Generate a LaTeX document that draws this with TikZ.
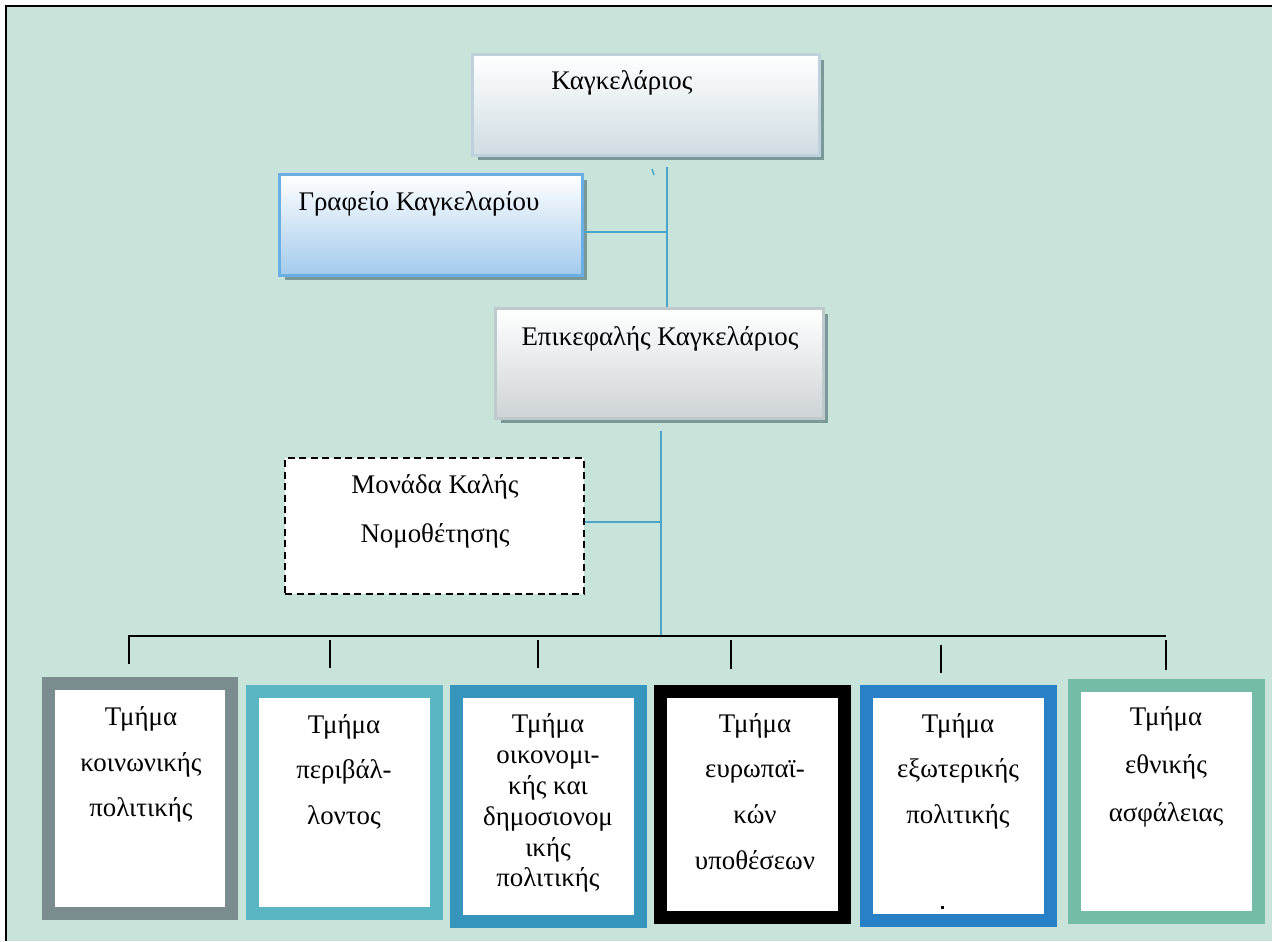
\documentclass[tikz,border=0pt]{standalone}
\usepackage{fontspec}
\setmainfont{Liberation Serif}
\usetikzlibrary{shadows}

\definecolor{bgcol}{HTML}{C7E3DA}
\definecolor{shadowcol}{HTML}{7B9899}
\definecolor{linecol}{HTML}{4BA5C8}
\definecolor{kagline}{HTML}{BFD2DB}
\definecolor{kagfill}{HTML}{CFDCE2}
\definecolor{grafline}{HTML}{6AAEE3}
\definecolor{graffill}{HTML}{A2CAEC}
\definecolor{epiline}{HTML}{BFC9CC}
\definecolor{epifill}{HTML}{CDD3D6}
\definecolor{dgray}{HTML}{7B8C8E}
\definecolor{dteal}{HTML}{5AB6C2}
\definecolor{dblue}{HTML}{3595BC}
\definecolor{dblack}{HTML}{000000}
\definecolor{dsky}{HTML}{2881C7}
\definecolor{dgreen}{HTML}{74BCA7}

\begin{document}
\begin{tikzpicture}[x=0.02cm, y=-0.02cm,
    topbox/.style={rectangle, line width=0.06cm,
      drop shadow={shadow xshift=0.1cm, shadow yshift=-0.1cm, fill=shadowcol, opacity=1}},
    txt/.style={inner sep=0pt, align=center, font=\fontsize{15.3}{26}\selectfont},
    conn/.style={draw=linecol, line width=0.03cm},
    tick/.style={draw=black, line width=0.045cm},
    dept/.style={rectangle, line width=0.26cm, fill=white, minimum width=3.68cm}]
    \useasboundingbox (0,0) rectangle (1272,941);

    % background and frame
    \fill[bgcol] (6,6) rectangle (1272,941);
    \draw[line width=0.05cm] (6,941) -- (6,6) -- (1272,6);

    % chancellor
    \node[topbox, draw=kagline, top color=white, bottom color=kagfill,
      minimum width=6.94cm, minimum height=2.02cm] (kag) at (646,105) {};
    \node[txt, anchor=base] (kagt) at (622,89) {Καγκελάριος};

    % office
    \node[topbox, draw=grafline, top color=white, bottom color=graffill,
      minimum width=6.06cm, minimum height=2.02cm] (graf) at (431,225) {};
    \node[txt, anchor=base] (graft) at (419,210) {Γραφείο Καγκελαρίου};

    % head of chancellery
    \node[topbox, draw=epiline, top color=white, bottom color=epifill,
      minimum width=6.56cm, minimum height=2.2cm] (epi) at (659.5,363.5) {};
    \node[txt, anchor=base] (epit) at (660,345) {Επικεφαλής Καγκελάριος};

    % better regulation unit
    \node[rectangle, draw=black, fill=white, line width=0.05cm,
      dash pattern=on 0.14cm off 0.09cm,
      minimum width=5.98cm, minimum height=2.72cm] (mon) at (434.5,526) {};
    \node[txt, anchor=north, font=\fontsize{15.3}{27.8}\selectfont] (mont) at (435,474)
      {Μονάδα Καλής\\Νομοθέτησης};

    % blue connectors
    \coordinate (j1) at (667,232);
    \coordinate (j2) at (661,522);
    \coordinate (busl) at (128,636);
    \coordinate (busr) at (1166,636);
    \draw[conn] ([yshift=-0.2cm]kag.south -| j1) -- (j1 |- epi.north);
    \draw[conn] (graf.east |- j1) -- (j1);
    \draw[conn] ([yshift=-0.22cm]epi.south -| j2) -- (j2 |- busl);
    \draw[conn] (mon.east |- j2) -- (j2);
    \draw[conn] (652,169) -- (654,175);

    % departments
    \node[dept, draw=dgray, minimum height=4.6cm] (d1) at (140,798.5) {};
    \node[txt, anchor=north] (d1t) at (141,706) {Τμήμα\\κοινωνικής\\πολιτικής};

    \node[dept, draw=dteal, minimum height=4.44cm] (d2) at (344.5,802.5) {};
    \node[txt, anchor=north] (d2t) at (344,714) {Τμήμα\\περιβάλ-\\λοντος};

    \node[dept, draw=dblue, minimum height=4.6cm] (d3) at (548.5,806.5) {};
    \node[txt, anchor=north, font=\fontsize{15.3}{17.6}\selectfont] (d3t) at (548,713)
      {Τμήμα\\οικονομι-\\κής και\\δημοσιονομ\\ικής\\πολιτικής};

    \node[dept, draw=dblack, minimum height=4.52cm] (d4) at (752.5,804.5) {};
    \node[txt, anchor=north] (d4t) at (755,713) {Τμήμα\\ευρωπαϊ-\\κών\\υποθέσεων};

    \node[dept, draw=dsky, minimum height=4.58cm] (d5) at (958.5,806) {};
    \node[txt, anchor=north] (d5t) at (958,713) {Τμήμα\\εξωτερικής\\πολιτικής};
    \fill (941,906) rectangle (944,909);

    \node[dept, draw=dgreen, minimum height=4.64cm] (d6) at (1166.5,801.5) {};
    \node[txt, anchor=north, font=\fontsize{15.3}{27.5}\selectfont] (d6t) at (1166,706)
      {Τμήμα\\εθνικής\\ασφάλειας};

    % black bus and ticks
    \draw[tick] (busl) -- (busr);
    \draw[tick] (129,637) -- ([yshift=0.26cm]d1.north -| 129,0);
    \draw[tick] (330,640) -- ([yshift=0.34cm]d2.north -| 330,0);
    \draw[tick] (538,640) -- ([yshift=0.34cm]d3.north -| 538,0);
    \draw[tick] (731,640) -- ([yshift=0.32cm]d4.north -| 731,0);
    \draw[tick] (941,645) -- ([yshift=0.24cm]d5.north -| 941,0);
    \draw[tick] (1166,640) -- ([yshift=0.18cm]d6.north -| 1166,0);
\end{tikzpicture}
\end{document}
